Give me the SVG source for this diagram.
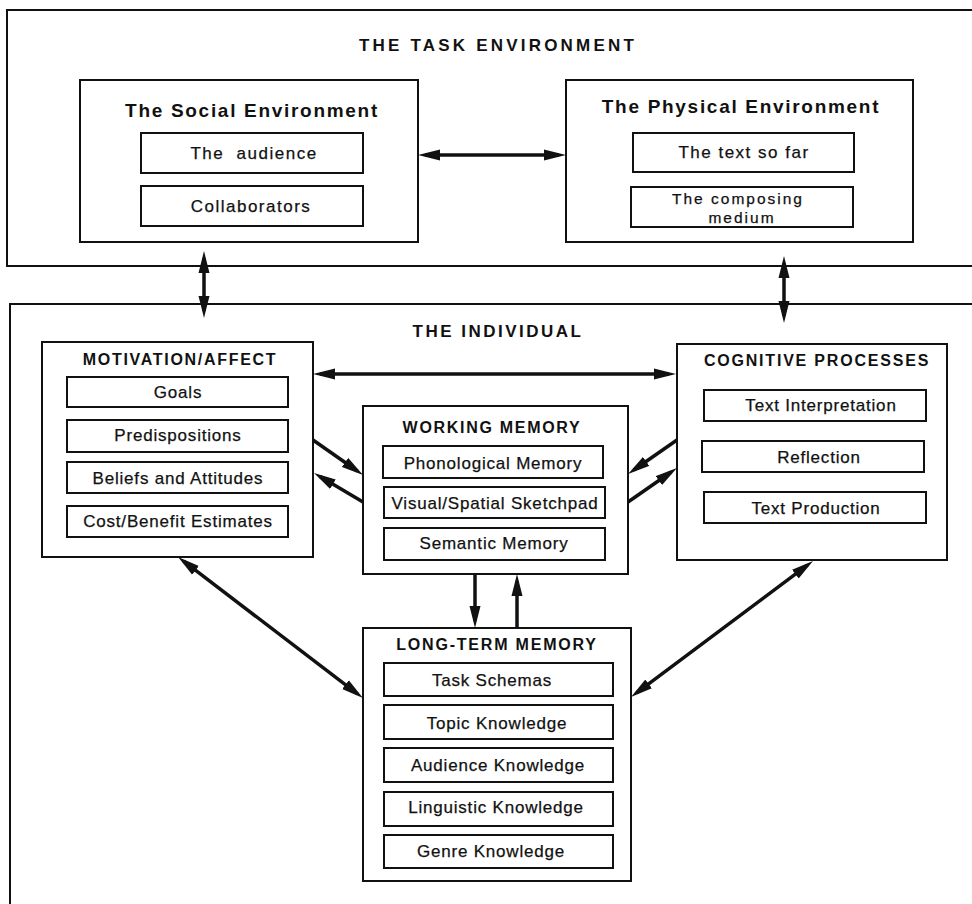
<svg xmlns="http://www.w3.org/2000/svg" width="972" height="904" viewBox="0 0 972 904">
<style>
.frame{fill:none;stroke:#111;stroke-width:2}
.box{fill:#fff;stroke:#111;stroke-width:2}
.sub{fill:#fff;stroke:#111;stroke-width:2}
.conn{fill:none;stroke:#111;stroke-width:3.5}
.big{font-family:"Liberation Sans",Arial,sans-serif;font-weight:bold;font-size:17px;fill:#111;text-anchor:middle}
.env{font-family:"Liberation Sans",Arial,sans-serif;font-weight:bold;font-size:19px;letter-spacing:1.7px;fill:#111;text-anchor:middle}
.ttl{font-family:"Liberation Sans",Arial,sans-serif;font-weight:bold;font-size:16px;letter-spacing:1.7px;fill:#111;text-anchor:middle}
.lbl{font-family:"Liberation Sans",Arial,sans-serif;font-size:17px;letter-spacing:0.8px;fill:#111;stroke:#111;stroke-width:0.25;text-anchor:middle}
.lblw{font-family:"Liberation Sans",Arial,sans-serif;font-size:17px;letter-spacing:1.5px;fill:#111;stroke:#111;stroke-width:0.25;text-anchor:middle}
.lbl2{font-family:"Liberation Sans",Arial,sans-serif;font-size:15.5px;letter-spacing:2px;fill:#111;stroke:#111;stroke-width:0.25;text-anchor:middle}
</style>
<defs>
<marker id="ah" markerUnits="userSpaceOnUse" viewBox="0 0 22 12" markerWidth="22" markerHeight="12" refX="15" refY="6" orient="auto-start-reverse">
<path d="M0,0.5 L22,6 L0,11.5 z" fill="#111"/>
</marker>
</defs>
<rect width="972" height="904" fill="#fff"/>

<g id="task-environment">
<path class="frame" d="M980,10 H7 V266 H980"/>
<text class="big" x="498" y="51" style="letter-spacing:3.2px">THE TASK ENVIRONMENT</text>
</g>

<g id="individual">
<path class="frame" d="M980,304 H10 V912"/>
<text class="big" x="498" y="337" style="letter-spacing:2.5px">THE INDIVIDUAL</text>
</g>

<g id="social-environment">
<rect class="box" x="80" y="80" width="338" height="162"/>
<text class="env" x="252" y="117">The Social Environment</text>
<rect class="sub" x="141" y="133" width="222" height="40"/>
<text class="lblw" x="254" y="159" xml:space="preserve">The  audience</text>
<rect class="sub" x="141" y="186" width="222" height="40"/>
<text class="lblw" x="251" y="212">Collaborators</text>
</g>

<g id="physical-environment">
<rect class="box" x="566" y="80" width="347" height="162"/>
<text class="env" x="741" y="113">The Physical Environment</text>
<rect class="sub" x="633" y="133" width="221" height="39"/>
<text class="lblw" x="744" y="158">The text so far</text>
<rect class="sub" x="631" y="187" width="222" height="40"/>
<text class="lbl2" x="738" y="204">The composing</text>
<text class="lbl2" x="742" y="222.5">medium</text>
</g>

<g id="motivation-affect">
<rect class="box" x="42" y="342" width="271" height="215"/>
<text class="ttl" x="180" y="365">MOTIVATION/AFFECT</text>
<rect class="sub" x="67" y="377" width="221" height="30"/>
<text class="lbl" x="178" y="398">Goals</text>
<rect class="sub" x="67" y="420" width="221" height="32"/>
<text class="lbl" x="178" y="441">Predispositions</text>
<rect class="sub" x="67" y="462" width="221" height="31"/>
<text class="lbl" x="178" y="484">Beliefs and Attitudes</text>
<rect class="sub" x="67" y="506" width="221" height="31"/>
<text class="lbl" x="178" y="527">Cost/Benefit Estimates</text>
</g>

<g id="working-memory">
<rect class="box" x="363" y="406" width="265" height="168"/>
<text class="ttl" x="492" y="433">WORKING MEMORY</text>
<rect class="sub" x="383" y="446" width="220" height="32"/>
<text class="lbl" x="493" y="469">Phonological Memory</text>
<rect class="sub" x="384" y="487" width="221" height="31"/>
<text class="lbl" x="495" y="509">Visual/Spatial Sketchpad</text>
<rect class="sub" x="384" y="528" width="221" height="32"/>
<text class="lbl" x="494" y="549">Semantic Memory</text>
</g>

<g id="cognitive-processes">
<rect class="box" x="677" y="344" width="270" height="216"/>
<text class="ttl" x="817" y="366" style="letter-spacing:1.8px">COGNITIVE PROCESSES</text>
<rect class="sub" x="704" y="390" width="222" height="31"/>
<text class="lbl" x="821" y="411">Text Interpretation</text>
<rect class="sub" x="702" y="441" width="222" height="31"/>
<text class="lbl" x="819" y="463">Reflection</text>
<rect class="sub" x="704" y="492" width="222" height="31"/>
<text class="lbl" x="816" y="514">Text Production</text>
</g>

<g id="long-term-memory">
<rect class="box" x="363" y="628" width="268" height="253"/>
<text class="ttl" x="497" y="650" style="letter-spacing:1.8px">LONG-TERM MEMORY</text>
<rect class="sub" x="384" y="663" width="229" height="33"/>
<text class="lbl" x="492" y="686">Task Schemas</text>
<rect class="sub" x="384" y="705" width="229" height="34"/>
<text class="lbl" x="497" y="729">Topic Knowledge</text>
<rect class="sub" x="384" y="748" width="229" height="34"/>
<text class="lbl" x="498" y="771">Audience Knowledge</text>
<rect class="sub" x="384" y="792" width="229" height="34"/>
<text class="lbl" x="496" y="813">Linguistic Knowledge</text>
<rect class="sub" x="384" y="835" width="229" height="33"/>
<text class="lbl" x="491" y="857">Genre Knowledge</text>
</g>

<g id="connectors">
<line class="conn" x1="425" y1="155" x2="559" y2="155" stroke-width="3" marker-start="url(#ah)" marker-end="url(#ah)"/>
<line class="conn" x1="204" y1="258" x2="204" y2="311" marker-start="url(#ah)" marker-end="url(#ah)"/>
<line class="conn" x1="784" y1="263" x2="784" y2="316" marker-start="url(#ah)" marker-end="url(#ah)"/>
<line class="conn" x1="320" y1="374" x2="669" y2="374" stroke-width="3" marker-start="url(#ah)" marker-end="url(#ah)"/>
<line class="conn" x1="313" y1="440" x2="357.3" y2="471" marker-end="url(#ah)"/>
<line class="conn" x1="363" y1="502" x2="320" y2="476.6" marker-end="url(#ah)"/>
<line class="conn" x1="677" y1="440" x2="633.8" y2="470" marker-end="url(#ah)"/>
<line class="conn" x1="628" y1="502" x2="671.2" y2="472" marker-end="url(#ah)"/>
<line class="conn" x1="475" y1="574" x2="475" y2="621" marker-end="url(#ah)"/>
<line class="conn" x1="517" y1="628" x2="517" y2="581" marker-end="url(#ah)"/>
<line class="conn" x1="183.6" y1="561.2" x2="357.4" y2="693.8" marker-start="url(#ah)" marker-end="url(#ah)"/>
<line class="conn" x1="807.4" y1="565.2" x2="636.6" y2="692.8" marker-start="url(#ah)" marker-end="url(#ah)"/>
</g>
</svg>
